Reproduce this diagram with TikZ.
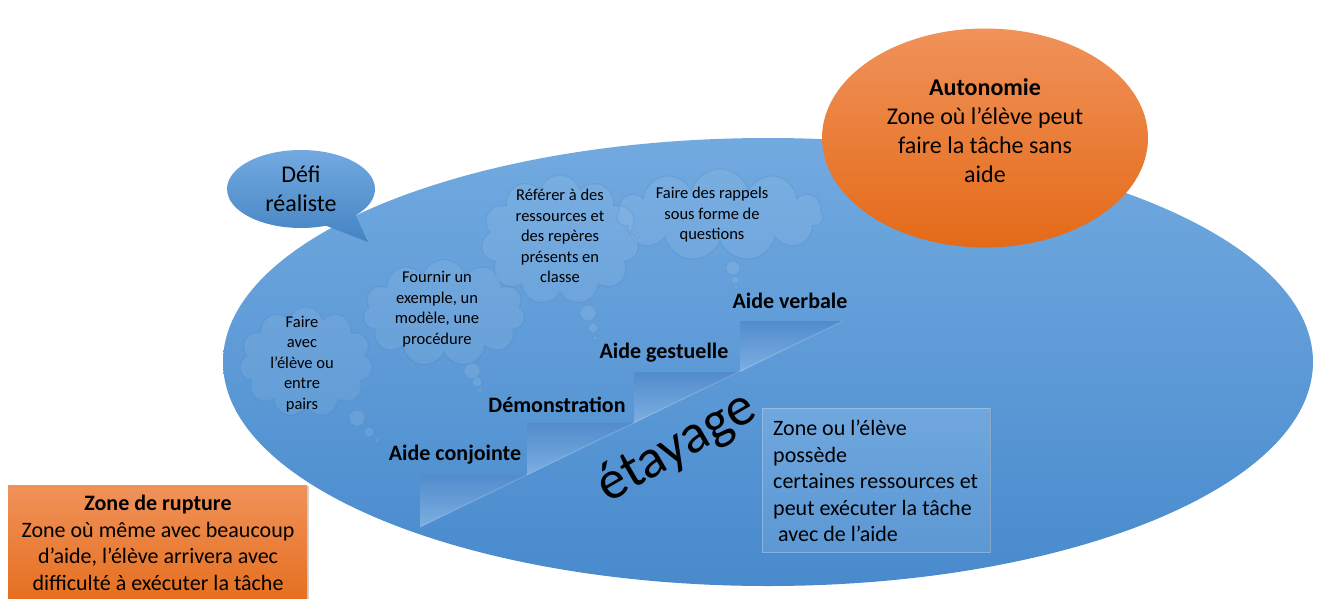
\documentclass[tikz,border=0pt]{standalone}
\usepackage{fontspec}
\setmainfont{Carlito}
\usetikzlibrary{shapes.geometric,shapes.symbols,shapes.callouts,shadows}
\definecolor{blueA}{RGB}{114,170,224}
\definecolor{blueB}{RGB}{72,138,205}
\definecolor{blueEdge}{RGB}{60,120,190}
\definecolor{orA}{RGB}{240,146,90}
\definecolor{orB}{RGB}{228,106,24}
\definecolor{stepA}{RGB}{82,140,204}
\definecolor{stepB}{RGB}{124,175,226}
\definecolor{boxA}{RGB}{112,167,222}
\definecolor{boxB}{RGB}{92,152,212}
\begin{document}
\begin{tikzpicture}[x=1pt,y=-1pt,
  cloudshape/.style={cloud, cloud puffs=11, cloud ignores aspect, inner sep=0,
    fill=white, fill opacity=0.07, draw=blueEdge, draw opacity=0.18, line width=1.2pt},
  puff/.style={fill=white, fill opacity=0.10, draw=blueEdge, draw opacity=0.18, line width=0.8pt},
  cloudtxt/.style={align=center, inner sep=0, font=\fontsize{16.5}{20.5}\selectfont},
  steplabel/.style={inner sep=0, font=\bfseries\fontsize{22}{26}\selectfont},
  stepshade/.style={top color=stepA, bottom color=stepB},
  bigtxt/.style={align=center, inner sep=0, font=\fontsize{24}{29}\selectfont},
  boxtxt/.style={inner sep=0, font=\fontsize{22}{26.5}\selectfont}
]
\clip (0,0) rectangle (1318,598);
\fill[white] (0,0) rectangle (1318,598);

% main ellipse
\node[ellipse, inner sep=0, minimum width=1090, minimum height=448,
      top color=blueA, bottom color=blueB] (zpd) at (768,362) {};

% steps
\shade[stepshade] (420,475) -- (527,475) -- (420,527) -- cycle;
\shade[stepshade] (527,423) -- (634,423) -- (527,475) -- cycle;
\shade[stepshade] (634,372) -- (740,372) -- (634,423) -- cycle;
\shade[stepshade] (740,321) -- (843,321) -- (740,372) -- cycle;
\draw[white, opacity=0.22, line width=0.8pt] (420,527) -- (843,321);

% clouds
\node[cloudshape, minimum width=133, minimum height=110] (cloudA) at (306,362) {};
\node[cloudshape, minimum width=162, minimum height=107] (cloudB) at (444,313) {};
\node[cloudshape, minimum width=158, minimum height=130] (cloudC) at (560,240) {};
\node[cloudshape, minimum width=206, minimum height=92] (cloudD) at (720,215) {};
\path[puff] (357,418) circle[radius=8] (369,432) circle[radius=5] (377,440) circle[radius=2];
\path[puff] (472,371) circle[radius=8] (477,382) circle[radius=5] (480,390) circle[radius=2];
\path[puff] (588,313) circle[radius=8] (593,328) circle[radius=5] (595,338) circle[radius=2];
\path[puff] (733,268) circle[radius=7] (735,280) circle[radius=4] (736,287) circle[radius=2];

\node[cloudtxt] (tA) at (302,364) {Faire\\avec\\l’élève ou\\entre\\pairs};
\node[cloudtxt] (tB) at (437,309) {Fournir un\\exemple, un\\modèle, une\\procédure};
\node[cloudtxt] (tC) at (560,236) {Référer à des\\ressources et\\des repères\\présents en\\classe};
\node[cloudtxt] (tD) at (712,215) {Faire des rappels\\sous forme de\\questions};

% step labels
\node[steplabel] (s1) at (455,455) {Aide conjointe};
\node[steplabel] (s2) at (557,405) {Démonstration};
\node[steplabel] (s3) at (664,353) {Aide gestuelle};
\node[steplabel] (s4) at (790,301) {Aide verbale};

% etayage
\node[inner sep=0, rotate=30, font=\fontsize{55}{62}\selectfont] (etay) at (677,448) {étayage};

% defi bubble
\node[ellipse callout, callout absolute pointer={(368,242)}, callout pointer arc=28,
      inner sep=0, minimum width=148, minimum height=78,
      top color=blueA, bottom color=blueB!95!black, bigtxt] (defi) at (301,189) {Défi\\réaliste};

% autonomie
\node[ellipse, inner sep=0, minimum width=326, minimum height=219,
      top color=orA, bottom color=orB] (auto) at (985,138) {};
\node[bigtxt] (autoTxt) at (985,131) {\textbf{Autonomie}\\Zone où l’élève peut\\faire la tâche sans\\aide};

% zone box (blue)
\node[anchor=north west, inner sep=0, minimum width=228, minimum height=144,
      top color=boxA, bottom color=boxB, draw=white, draw opacity=0.25,
      drop shadow={opacity=0.35, shadow xshift=2pt, shadow yshift=-2pt}] (zbox) at (762,408) {};
\node[boxtxt, anchor=west, align=left] (zboxTxt) at (773,481) {Zone ou l’élève\\possède\\certaines ressources et\\peut exécuter la tâche\\\ avec de l’aide};

% zone de rupture
\node[anchor=north west, inner sep=0, minimum width=299, minimum height=130,
      top color=orA, bottom color=orB,
      drop shadow={opacity=0.35, shadow xshift=2pt, shadow yshift=-1pt}] (rupt) at (8,485) {};
\node[boxtxt, align=center] (ruptTxt) at (158,543) {\textbf{Zone de rupture}\\Zone où même avec beaucoup\\d’aide, l’élève arrivera avec\\difficulté à exécuter la tâche};
\end{tikzpicture}
\end{document}
